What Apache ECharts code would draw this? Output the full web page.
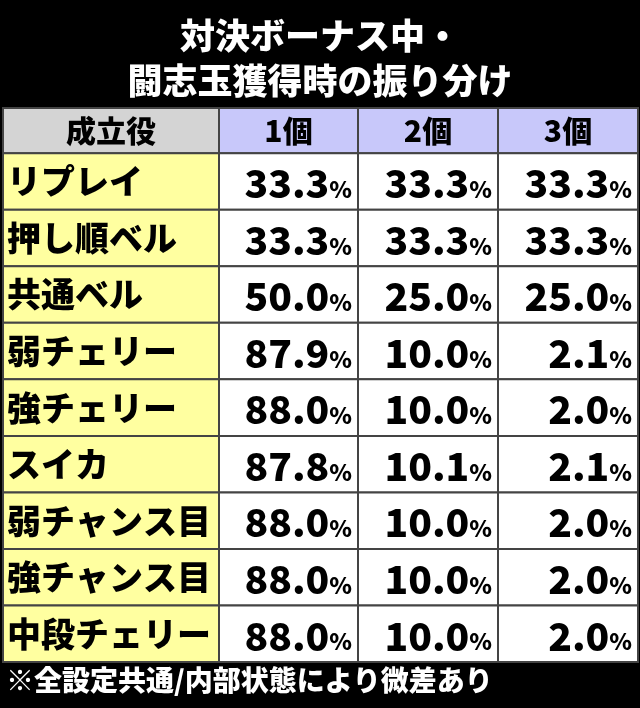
<!DOCTYPE html><html><head><meta charset="utf-8"><script src="https://cdn.jsdelivr.net/npm/echarts@6/dist/echarts.min.js"></script>
<style>html,body{margin:0;background:#000}#c{width:640px;height:708px}</style></head><body><div id="c"></div><script>
const headers=['成立役','1個','2個','3個'];
const categories=['リプレイ','押し順ベル','共通ベル','弱チェリー','強チェリー','スイカ','弱チャンス目','強チャンス目','中段チェリー'];
const v1=['33.3','33.3','50.0','87.9','88.0','87.8','88.0','88.0','88.0'];
const v2=['33.3','33.3','25.0','10.0','10.0','10.1','10.0','10.0','10.0'];
const v3=['33.3','33.3','25.0','2.1','2.0','2.1','2.0','2.0','2.0'];
const edges=[3,219,358,498,638];
const F='"Noto Sans CJK JP"';
const data=[];
headers.forEach((h,c)=>data.push([c,-1,h]));
categories.forEach((n,r)=>{data.push([0,r,n]);data.push([1,r,v1[r]]);data.push([2,r,v2[r]]);data.push([3,r,v3[r]]);});
function y0(r){return r<0?0:0.8+r;} function y1(r){return r<0?0.8:1.8+r;}
const chart=echarts.init(document.getElementById('c'));
chart.setOption({backgroundColor:'#000',animation:false,
title:{text:'対決ボーナス中・\n闘志玉獲得時の振り分け',left:'center',top:8,textStyle:{color:'#fff',fontFamily:F,fontWeight:900,fontSize:35,lineHeight:45}},
graphic:[{type:'text',left:6,top:666,style:{text:'※全設定共通/内部状態により微差あり',fill:'#fff',font:'900 28px '+F}}],
grid:{left:0,right:0,top:108,bottom:46},
xAxis:{type:'value',min:0,max:640,show:false},
yAxis:{type:'value',min:0,max:9.8,inverse:true,show:false},
series:[{type:'custom',data:data,renderItem:function(p,api){
 const c=api.value(0),r=api.value(1),t=data[p.dataIndex][2];
 const a=api.coord([edges[c],y0(r)]),b=api.coord([edges[c+1],y1(r)]);
 let fill=r<0?(c==0?'#d4d4d4':'#c8c8fa'):(c==0?'#ffffa0':'#fff');
 const rect={type:'rect',shape:{x:a[0],y:a[1],width:b[0]-a[0],height:b[1]-a[1]},style:{fill:fill,stroke:'#444',lineWidth:2}};
 let txt;
 if(r<0){txt={type:'text',style:{text:t,x:(a[0]+b[0])/2,y:(a[1]+b[1])/2,align:'center',verticalAlign:'middle',fill:'#000',font:'900 30px '+F}};}
 else if(c==0){txt={type:'text',style:{text:t,x:a[0]+4,y:(a[1]+b[1])/2,verticalAlign:'middle',fill:'#000',font:'900 34px '+F}};}
 else{txt={type:'text',style:{text:'{n|'+t+'}{p|%}',x:b[0]-6,y:(a[1]+b[1])/2+2,align:'right',verticalAlign:'middle',rich:{n:{fontFamily:F,fontWeight:900,fontSize:39,fill:'#000'},p:{fontFamily:F,fontWeight:900,fontSize:23,fill:'#000',padding:[12,0,0,0]}}}};}
 return {type:'group',children:[rect,txt]};
}}]});
</script></body></html>
